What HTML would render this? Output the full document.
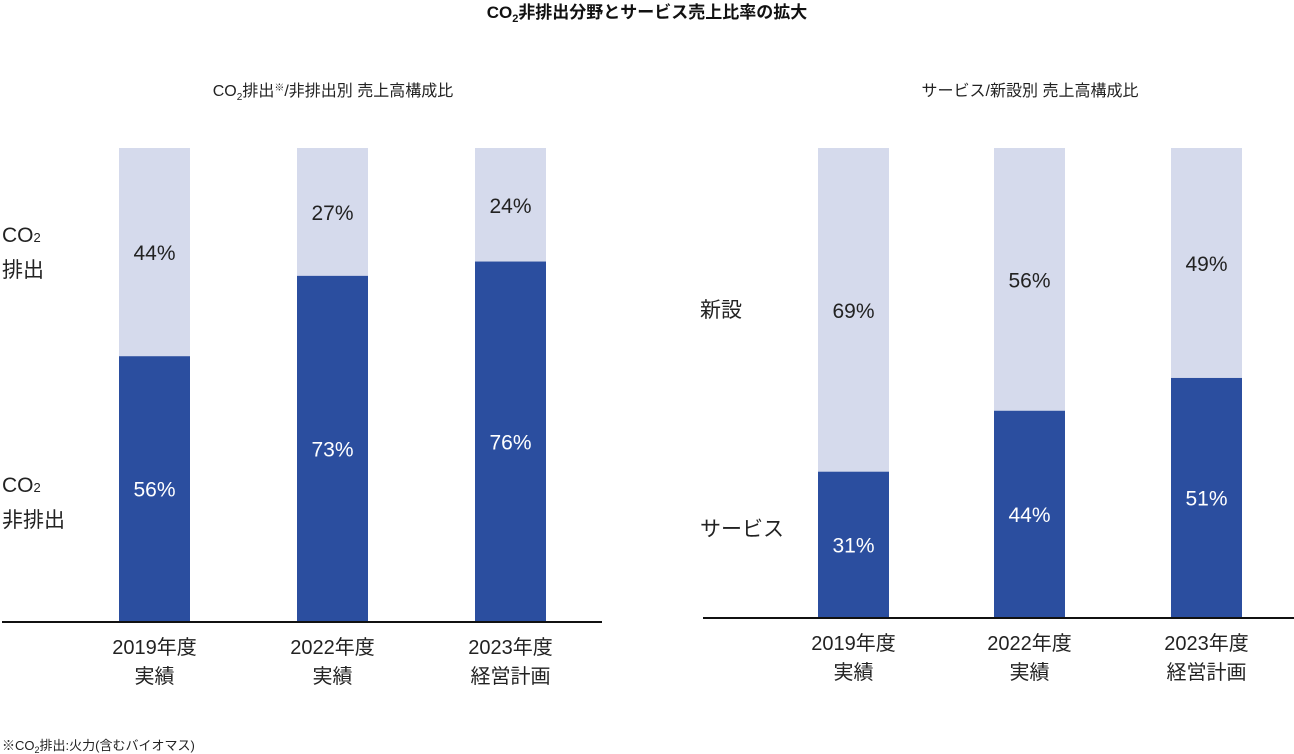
<!DOCTYPE html>
<html><head><meta charset="utf-8">
<style>
body{margin:0;background:#fff;}
svg{display:block;font-family:"Liberation Sans","Noto Sans CJK JP",sans-serif;}
</style></head>
<body>
<svg id="c" width="1294" height="754" viewBox="0 0 1294 754">
<text x="647" y="18" text-anchor="middle" font-size="17" font-weight="bold" fill="#111">CO<tspan font-size="11" dy="4">2</tspan><tspan dy="-4">非排出分野とサービス売上比率の拡大</tspan></text>
<text x="333" y="96" text-anchor="middle" font-size="16" fill="#222">CO<tspan font-size="10" dy="4">2</tspan><tspan dy="-4">排出</tspan><tspan font-size="10" dy="-5">※</tspan><tspan dy="5">/非排出別 売上高構成比</tspan></text>
<text x="1030" y="96" text-anchor="middle" font-size="16" fill="#222">サービス/新設別 売上高構成比</text>
<text x="2" y="242" font-size="21" fill="#222"><tspan x="2">CO<tspan font-size="13">2</tspan></tspan><tspan x="2" dy="35">排出</tspan></text>
<text x="2" y="492" font-size="21" fill="#222"><tspan x="2">CO<tspan font-size="13">2</tspan></tspan><tspan x="2" dy="35">非排出</tspan></text>
<text x="700" y="317" font-size="21" fill="#222">新設</text>
<text x="700" y="536" font-size="21" fill="#222">サービス</text>
<text x="2" y="750" font-size="13" fill="#222">※CO<tspan font-size="9" dy="3">2</tspan><tspan dy="-3">排出:火力(含むバイオマス)</tspan></text>
<g id="bars"></g>
</svg>
<script>
const categories1=["2019年度|実績","2022年度|実績","2023年度|経営計画"];
const darkValues1=[56,73,76];
const lightValues1=[44,27,24];
const categories2=["2019年度|実績","2022年度|実績","2023年度|経営計画"];
const darkValues2=[31,44,51];
const lightValues2=[69,56,49];
const NS="http://www.w3.org/2000/svg";
const g=document.getElementById('bars');
function mk(t,a){const e=document.createElementNS(NS,t);for(const k in a)e.setAttribute(k,a[k]);g.appendChild(e);return e;}
function chart(cats,dark,light,xs,top,base,axX1,axX2,pre){
  const y=v=>base-(base-top)*v/100;
  cats.forEach((c,i)=>{
    const x=xs[i],w=71,tot=dark[i]+light[i];
    const yd=y(dark[i]*100/tot);
    let r=mk('rect',{x:x,y:yd,width:w,height:base-yd,fill:'#2b4e9f'});
    
    
    r=mk('rect',{x:x,y:top,width:w,height:yd-top,fill:'#d5daec'});
    
    
    let t=mk('text',{x:x+w/2,y:(yd+base)/2+8,'text-anchor':'middle','font-size':21,fill:'#fff'});
    t.textContent=dark[i]+'%';
    
    
    t=mk('text',{x:x+w/2,y:(yd+top)/2+8,'text-anchor':'middle','font-size':21,fill:'#222'});
    t.textContent=light[i]+'%';
    
    
    const p=c.split('|');
    t=mk('text',{x:x+w/2,y:base+33,'text-anchor':'middle','font-size':20,fill:'#222'});
    t.textContent=p[0];
    
    
    t=mk('text',{x:x+w/2,y:base+62,'text-anchor':'middle','font-size':20,fill:'#222'});
    t.textContent=p[1];
    
    
  });
  const l=mk('line',{x1:axX1,x2:axX2,y1:base+1,y2:base+1,stroke:'#111','stroke-width':2});
  
  
}
chart(categories1,darkValues1,lightValues1,[119,297,475],148,621,2,602,'left');
chart(categories2,darkValues2,lightValues2,[818,994,1171],148,617,703,1294,'right');
</script>
</body></html>
